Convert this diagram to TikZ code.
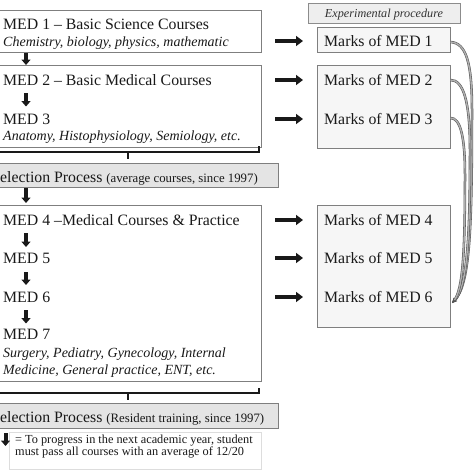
\documentclass[tikz,border=0pt]{standalone}
\usepackage{fontspec}
\setmainfont{Liberation Serif}
\usetikzlibrary{arrows.meta}
\definecolor{bordc}{HTML}{7F7F7F}
\definecolor{selfill}{HTML}{E4E4E4}
\definecolor{rfill}{HTML}{F6F6F6}
\definecolor{expfill}{HTML}{EEEEEE}
\definecolor{legbord}{HTML}{DDDDDD}
\definecolor{bandfill}{HTML}{B0B0B0}
\definecolor{bandline}{HTML}{555555}
\begin{document}
\begin{tikzpicture}[x=1pt,y=-1pt,
  mainf/.style={font=\fontsize{15.8}{18}\selectfont, inner sep=0pt, anchor=base west, text=black!90},
  itf/.style={font=\fontsize{14}{16}\selectfont\itshape, inner sep=0pt, anchor=base west, text=black!90},
  legf/.style={font=\fontsize{12.3}{14}\selectfont, inner sep=0pt, anchor=base west, text=black!90},
  lbox/.style={draw=bordc, line width=0.9pt, fill=white, rectangle, inner sep=0pt, anchor=north west},
  selbox/.style={draw=bordc, line width=0.9pt, fill=selfill, rectangle, inner sep=0pt, anchor=north west},
  rbox/.style={draw=bordc, line width=0.9pt, fill=rfill, rectangle, inner sep=0pt, anchor=north west},
  expbox/.style={draw=black!45, line width=0.8pt, fill=expfill, rectangle, inner sep=0pt, anchor=north west},
  legbox/.style={draw=legbord, line width=0.7pt, fill=white, rectangle, inner sep=0pt, anchor=north west},
  darrow/.style={line width=4pt, black!90, -{Triangle[width=9pt,length=5.5pt]}},
  harrow/.style={line width=4pt, black!90, -{Triangle[width=10pt,length=7pt]}},
  bracket/.style={line width=1.6pt, black!90},
  band/.style={draw=bandline, double=bandfill, double distance=1.4pt, line width=0.55pt, -{Stealth[length=5pt,width=4.5pt]}}
]
\useasboundingbox (0,0) rectangle (474,474);

% ---- left column boxes ----
\node[lbox, minimum width=281pt, minimum height=42pt] (box1) at (-20,10) {};
\node[lbox, minimum width=281pt, minimum height=82pt] (box2) at (-20,65) {};
\node[selbox, minimum width=298pt, minimum height=24pt] (sel1) at (-20,163) {};
\node[lbox, minimum width=281pt, minimum height=176pt] (box3) at (-20,205) {};
\node[selbox, minimum width=298pt, minimum height=25pt] (sel2) at (-20,403) {};
\node[legbox, minimum width=252pt, minimum height=37pt] (legend) at (9,432) {};

% ---- right column boxes ----
\node[expbox, minimum width=152pt, minimum height=20pt] (exp) at (308,3) {};
\node[rbox, minimum width=133pt, minimum height=25pt] (mb1) at (317,27) {};
\node[rbox, minimum width=133pt, minimum height=83pt] (mb23) at (317,65) {};
\node[rbox, minimum width=133pt, minimum height=122pt] (mb46) at (317,205) {};

% ---- left texts ----
\node[mainf] (t1) at (3,29.5) {MED 1 – Basic Science Courses};
\node[itf] (t1i) at (3,46) {Chemistry, biology, physics, mathematic};
\node[mainf] (t2) at (3,85) {MED 2 – Basic Medical Courses};
\node[mainf] (t3) at (3,124) {MED 3};
\node[itf] (t3i) at (3,140.5) {Anatomy, Histophysiology, Semiology, etc.};
\node[mainf] (s1) at (-8.8,182.5) {Selection Process {\fontsize{12.8}{14}\selectfont (average courses, since 1997)}};
\node[mainf] (t4) at (3,225) {MED 4 –Medical Courses \& Practice};
\node[mainf] (t5) at (3,263) {MED 5};
\node[mainf] (t6) at (3,302) {MED 6};
\node[mainf] (t7) at (3,339) {MED 7};
\node[itf] (t7i) at (3,357) {Surgery, Pediatry, Gynecology, Internal};
\node[itf] (t7j) at (3,374.5) {Medicine, General practice, ENT, etc.};
\node[mainf] (s2) at (-8.8,422) {Selection Process {\fontsize{12.8}{14}\selectfont (Resident training, since 1997)}};
\node[legf] (l1) at (15,443) {= To progress in the next academic year, student};
\node[legf] (l2) at (15,455.5) {must pass all courses with an average of 12/20};

% ---- right texts ----
\node[font=\fontsize{12.2}{14}\selectfont\itshape, inner sep=0pt, anchor=base, text=black!80] (expt) at (384,17.5) {Experimental procedure};
\node[mainf] (m1) at (324,46.5) {Marks of MED 1};
\node[mainf] (m2) at (324,85) {Marks of MED 2};
\node[mainf] (m3) at (324,124) {Marks of MED 3};
\node[mainf] (m4) at (324,225) {Marks of MED 4};
\node[mainf] (m5) at (324,263) {Marks of MED 5};
\node[mainf] (m6) at (324,302) {Marks of MED 6};

% ---- down arrows ----
\coordinate (d1a) at (26,53);  \coordinate (d1b) at (26,65);
\coordinate (d2a) at (26,93);  \coordinate (d2b) at (26,106.5);
\coordinate (d3a) at (26,188); \coordinate (d3b) at (26,203);
\coordinate (d4a) at (26,233); \coordinate (d4b) at (26,247);
\coordinate (d5a) at (26,272); \coordinate (d5b) at (26,285);
\coordinate (d6a) at (26,310); \coordinate (d6b) at (26,323.5);
\coordinate (dla) at (5.5,433); \coordinate (dlb) at (5.5,446);
\foreach \a/\b in {d1a/d1b,d2a/d2b,d3a/d3b,d4a/d4b,d5a/d5b,d6a/d6b,dla/dlb}
  \draw[darrow] (\a) -- (\b);

% ---- horizontal arrows ----
\foreach \n/\y in {1/41,2/80,3/119,4/220,5/258,6/297}{
  \coordinate (h\n a) at (275,\y);
  \coordinate (h\n b) at (303,\y);
  \draw[harrow] (h\n a) -- (h\n b);
}

% ---- brackets ----
\coordinate (b1l) at (-5,152); \coordinate (b1r) at (259,152);
\coordinate (b1u) at (259,146); \coordinate (b1m) at (128,152); \coordinate (b1t) at (128,159);
\draw[bracket] (b1l) -- (b1r) -- (b1u);
\draw[bracket] (b1m) -- (b1t);
\coordinate (b2l) at (-5,393); \coordinate (b2r) at (259,393);
\coordinate (b2u) at (259,387.5); \coordinate (b2m) at (128,393); \coordinate (b2t) at (128,399.5);
\draw[bracket] (b2l) -- (b2r) -- (b2u);
\draw[bracket] (b2m) -- (b2t);

% ---- curved bands ----
\coordinate (c1s) at (450.5,42);
\coordinate (c2s) at (450.5,80);
\coordinate (c3s) at (450.5,118);
\coordinate (cend) at (452,303);
\draw[band] (c1s) .. controls (466,43) and (472,62) .. (472,110) .. controls (472,230) and (470,285) .. (cend);
\draw[band] (c2s) .. controls (463,80) and (470,100) .. (470,150) .. controls (470,240) and (467,288) .. (cend);
\draw[band] (c3s) .. controls (460,118) and (465,135) .. (465,175) .. controls (465,250) and (463,290) .. (cend);
\end{tikzpicture}
\end{document}
